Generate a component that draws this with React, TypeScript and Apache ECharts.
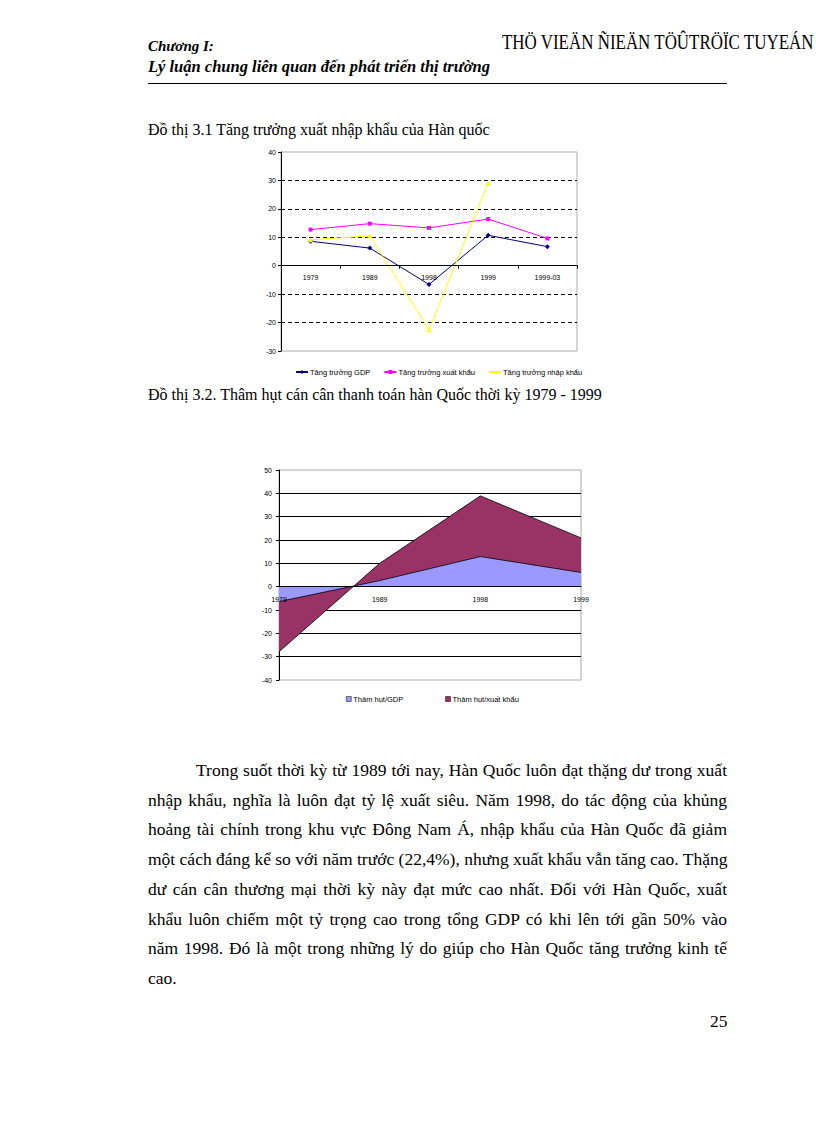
import React, { useEffect, useRef } from "react";
import * as echarts from "echarts";

// Chart 1: Tăng trưởng xuất nhập khẩu của Hàn quốc
const years1 = ["1979", "1989", "1998", "1999", "1999-03"];
const gdpGrowth = [8.6, 6.2, -6.6, 10.7, 6.7];
const exportGrowth = [12.7, 14.8, 13.3, 16.4, 9.6];
const importGrowth: (number | null)[] = [9.1, 10.5, -22.5, 29.1, null];
const seriesNames1 = ["Tăng trưởng GDP", "Tăng trưởng xuất khẩu", "Tăng trưởng nhập khẩu"];
const yMin1 = -30;
const yMax1 = 40;

// Chart 2: Thâm hụt cán cân thanh toán
const years2 = ["1979", "1989", "1998", "1999"];
const deficitGdp = [-6.4, 2.6, 12.9, 6.1];
const deficitExport = [-27.9, 10.0, 38.9, 20.9];
const seriesNames2 = ["Thâm hụt/GDP", "Thâm hụt/xuất khẩu"];
const yMin2 = -40;
const yMax2 = 50;

const paragraphLines = [
  "Trong suốt thời kỳ từ 1989 tới nay, Hàn Quốc luôn đạt thặng dư trong xuất",
  "nhập khẩu, nghĩa là luôn đạt tỷ lệ xuất siêu. Năm 1998, do tác động của khủng",
  "hoảng tài chính trong khu vực Đông Nam Á, nhập khẩu của Hàn Quốc đã giảm",
  "một cách đáng kể so với năm trước (22,4%), nhưng xuất khẩu vẫn tăng cao. Thặng",
  "dư cán cân thương mại thời kỳ này đạt mức cao nhất. Đối với Hàn Quốc, xuất",
  "khẩu luôn chiếm một tỷ trọng cao trong tổng GDP có khi lên tới gần 50% vào",
  "năm 1998. Đó là một trong những lý do giúp cho Hàn Quốc tăng trưởng kinh tế",
  "cao.",
];

const SANS = "'Liberation Sans', Arial, sans-serif";
const SERIF = "'Liberation Serif', 'Times New Roman', serif";

function ChartOne() {
  const ref = useRef<HTMLDivElement>(null);
  useEffect(() => {
    const chart = echarts.init(ref.current!, null, { renderer: "svg" });
    const gridH = 199;
    chart.setOption({
      animation: false,
      textStyle: { fontFamily: SANS },
      grid: {
        left: 41, top: 12, width: 296, height: gridH,
        show: true, borderColor: "#aaa", borderWidth: 1, backgroundColor: "transparent",
      },
      legend: {
        data: seriesNames1,
        left: 50, top: 223,
        itemWidth: 12, itemHeight: 5, itemGap: 13,
        textStyle: { fontSize: 7.5, color: "#000", fontFamily: SANS, padding: [0, 0, 0, -3] },
      },
      xAxis: {
        type: "category",
        data: years1,
        boundaryGap: true,
        position: "bottom",
        z: 10,
        offset: -(gridH * (0 - yMin1)) / (yMax1 - yMin1),
        axisLine: { onZero: false, lineStyle: { color: "#000", width: 1 } },
        axisTick: { show: true, length: 3, lineStyle: { color: "#000" } },
        axisLabel: { fontSize: 7, color: "#000", margin: 8, fontFamily: SANS },
        splitLine: { show: false },
      },
      yAxis: {
        type: "value",
        min: yMin1, max: yMax1, interval: 10,
        axisLine: { show: true, lineStyle: { color: "#000", width: 1 } },
        axisTick: { show: true, length: 3, lineStyle: { color: "#000" } },
        axisLabel: { fontSize: 7, color: "#000", margin: 5, fontFamily: SANS },
        splitLine: {
          show: true, showMinLine: false, showMaxLine: false,
          lineStyle: { color: "#000", type: [4, 3], width: 1 },
        },
      },
      series: [
        {
          name: seriesNames1[0], type: "line", data: gdpGrowth,
          symbol: "diamond", symbolSize: 5,
          lineStyle: { color: "#000080", width: 1 },
          itemStyle: { color: "#000080" },
        },
        {
          name: seriesNames1[1], type: "line", data: exportGrowth,
          symbol: "rect", symbolSize: 4,
          lineStyle: { color: "#ff00ff", width: 1 },
          itemStyle: { color: "#ff00ff" },
        },
        {
          name: seriesNames1[2], type: "line", data: importGrowth,
          symbol: "triangle", symbolSize: 5,
          lineStyle: { color: "#ffff00", width: 1 },
          itemStyle: { color: "#ffff00" },
        },
      ],
    });
    return () => chart.dispose();
  }, []);
  return <div ref={ref} style={{ position: "absolute", left: 240, top: 140, width: 420, height: 245 }} />;
}

function ChartTwo() {
  const ref = useRef<HTMLDivElement>(null);
  useEffect(() => {
    const chart = echarts.init(ref.current!, null, { renderer: "svg" });
    const gridH = 210;
    chart.setOption({
      animation: false,
      textStyle: { fontFamily: SANS },
      grid: {
        left: 39, top: 15, width: 302, height: gridH,
        show: true, borderColor: "#aaa", borderWidth: 1, backgroundColor: "transparent",
      },
      legend: {
        data: seriesNames2,
        left: 101, top: 235,
        icon: "rect", itemWidth: 5, itemHeight: 5, itemGap: 42,
        itemStyle: { borderColor: "#000", borderWidth: 0.5 },
        textStyle: { fontSize: 7.5, color: "#000", fontFamily: SANS, padding: [0, 0, 0, -3] },
      },
      xAxis: {
        type: "category",
        data: years2,
        boundaryGap: false,
        position: "bottom",
        z: 10,
        offset: -(gridH * (0 - yMin2)) / (yMax2 - yMin2),
        axisLine: { onZero: false, lineStyle: { color: "#000", width: 1 } },
        axisTick: { show: false },
        axisLabel: { fontSize: 7, color: "#000", margin: 9, fontFamily: SANS },
        splitLine: { show: false },
      },
      yAxis: {
        type: "value",
        min: yMin2, max: yMax2, interval: 10,
        axisLine: { show: true, lineStyle: { color: "#000", width: 1 } },
        axisTick: { show: true, length: 3, lineStyle: { color: "#000" } },
        axisLabel: { fontSize: 7, color: "#000", margin: 7, fontFamily: SANS },
        splitLine: {
          show: true, showMinLine: false, showMaxLine: false,
          lineStyle: { color: "#000", type: "solid", width: 1 },
        },
      },
      series: [
        {
          name: seriesNames2[1], type: "line", data: deficitExport,
          symbol: "none", z: 2,
          lineStyle: { color: "#000", width: 0.8 },
          itemStyle: { color: "#993366" },
          areaStyle: { color: "#993366", opacity: 1 },
        },
        {
          name: seriesNames2[0], type: "line", data: deficitGdp,
          symbol: "none", z: 3,
          lineStyle: { color: "#000", width: 0.8 },
          itemStyle: { color: "#9999ff" },
          areaStyle: { color: "#9999ff", opacity: 1 },
        },
      ],
    });
    return () => chart.dispose();
  }, []);
  return <div ref={ref} style={{ position: "absolute", left: 240, top: 455, width: 400, height: 255 }} />;
}

export default function App() {
  return (
    <div
      style={{
        position: "absolute", left: 0, top: 0, width: 816, height: 1123,
        overflow: "hidden", background: "#fff", fontFamily: SERIF, color: "#000",
      }}
    >
      <div style={{ position: "absolute", left: 148, top: 38, fontSize: 15, fontStyle: "italic", fontWeight: "bold", fontFamily: SERIF }}>
        Chương I:
      </div>
      <div style={{ position: "absolute", left: 148, top: 57, fontSize: 16.5, fontStyle: "italic", fontWeight: "bold", fontFamily: SERIF, whiteSpace: "nowrap" }}>
        Lý luận chung liên quan đến phát triển thị trường
      </div>
      <div
        style={{
          position: "absolute", left: 502, top: 29, fontSize: 22, whiteSpace: "nowrap",
          fontFamily: SERIF, transform: "scaleX(0.77)", transformOrigin: "left top",
        }}
      >
        THÖ VIEÄN ÑIEÄN TÖÛTRÖÏC TUYEÁN
      </div>
      <div style={{ position: "absolute", left: 148, top: 83, width: 579, height: 0, borderTop: "1px solid #000" }} />
      <div style={{ position: "absolute", left: 148, top: 121, fontSize: 16, whiteSpace: "nowrap" }}>
        Đồ thị 3.1 Tăng trưởng xuất nhập khẩu của Hàn quốc
      </div>
      <ChartOne />
      <div style={{ position: "absolute", left: 148, top: 386, fontSize: 16, whiteSpace: "nowrap" }}>
        Đồ thị 3.2. Thâm hụt cán cân thanh toán hàn Quốc thời kỳ 1979 - 1999
      </div>
      <ChartTwo />
      <div style={{ position: "absolute", left: 148, top: 756, width: 579, fontSize: 17.5, lineHeight: "29.7px", fontFamily: SERIF }}>
        {paragraphLines.map((line, i) => (
          <div
            key={i}
            style={{
              textAlign: "justify",
              textAlignLast: i < paragraphLines.length - 1 ? "justify" : "left",
              textIndent: i === 0 ? 48 : 0,
              whiteSpace: "nowrap",
            }}
          >
            {line}
          </div>
        ))}
      </div>
      <div style={{ position: "absolute", left: 710, top: 1011, fontSize: 17.5 }}>25</div>
    </div>
  );
}
